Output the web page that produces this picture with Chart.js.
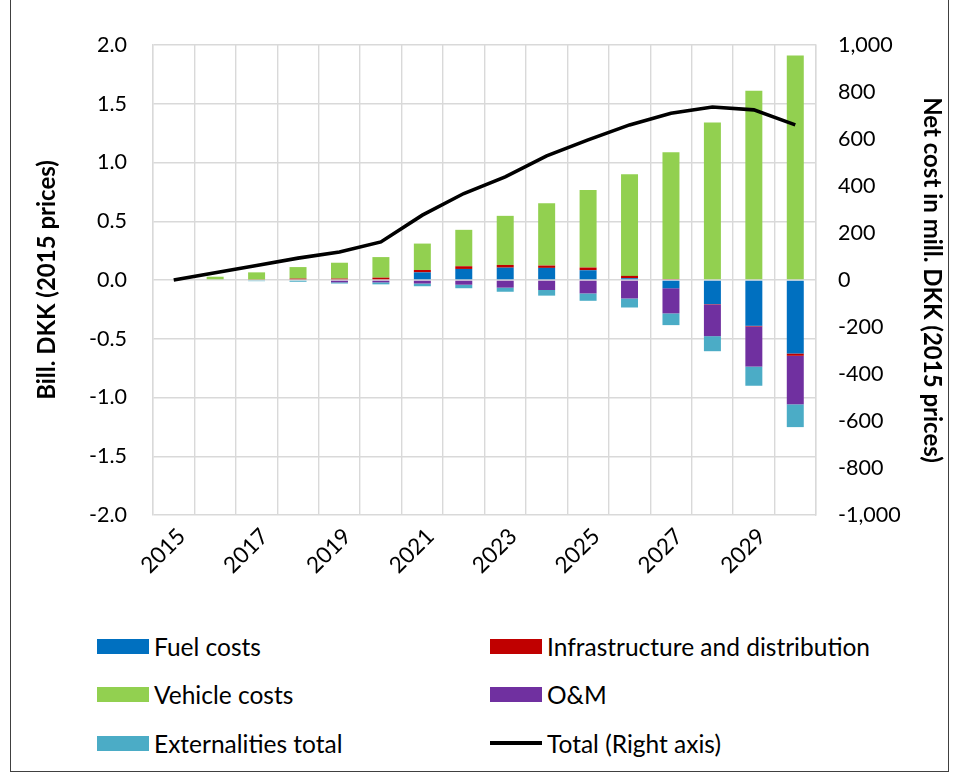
<!DOCTYPE html>
<html lang="en">
<head>
    <meta charset="UTF-8">
    <title>Bill. DKK (2015 prices)</title>
    <script src="https://cdn.jsdelivr.net/npm/chart.js"></script>
    <style>
        body {
            margin: 0;
            width: 953px;
            height: 774px;
            background: #fff;
            font-family: 'Lato', sans-serif;
            position: relative;
            overflow: hidden;
        }
        .frame {
            position: absolute;
            left: 10px;
            top: -2px;
            width: 939px;
            height: 774px;
            border: 1.5px solid #404040;
            box-sizing: border-box;
        }
        .chart-box {
            position: absolute;
            left: 0;
            top: 0;
            width: 953px;
            height: 580px;
        }
        .legend-item {
            position: absolute;
            display: flex;
            align-items: center;
            height: 24px;
            font-size: 24.5px;
            color: #000;
            white-space: nowrap;
        }
        .legend-swatch {
            width: 52px;
            margin-right: 5px;
        }
    </style>
</head>
<body>
    <div class="frame"></div>
    <div class="chart-box"><canvas id="chart"></canvas></div>
    <div id="legend"></div>

    <script>
        // --- data ---
        const years = ['2015', '2016', '2017', '2018', '2019', '2020', '2021', '2022',
                       '2023', '2024', '2025', '2026', '2027', '2028', '2029', '2030'];

        // bill. DKK, left axis
        const fuelCosts    = [0, 0, 0, 0, 0, 0, 0.065, 0.094, 0.105, 0.103, 0.083, 0.015, -0.07, -0.205, -0.39, -0.625];
        const infraCosts   = [0, 0, 0.005, 0.012, 0.012, 0.02, 0.02, 0.023, 0.023, 0.02, 0.023, 0.02, 0.008, -0.003, -0.005, -0.02];
        const vehicleCosts = [0, 0.028, 0.06, 0.098, 0.135, 0.175, 0.225, 0.31, 0.418, 0.531, 0.66, 0.865, 1.08, 1.34, 1.61, 1.91];
        const omCosts      = [0, 0, 0, 0, -0.02, -0.02, -0.03, -0.04, -0.065, -0.085, -0.114, -0.157, -0.214, -0.27, -0.342, -0.413];
        const externalities = [0, 0, -0.01, -0.015, -0.01, -0.017, -0.023, -0.03, -0.035, -0.048, -0.063, -0.077, -0.1, -0.128, -0.163, -0.194];

        // mill. DKK, right axis
        const totalNet = [0, 31, 62, 93, 119, 162, 276, 368, 439, 528, 596, 660, 710, 736, 724, 660];

        const leftTicks = [-2.0, -1.5, -1.0, -0.5, 0.0, 0.5, 1.0, 1.5, 2.0];
        const rightTicks = [-1000, -800, -600, -400, -200, 0, 200, 400, 600, 800, 1000];

        const FONT = 'Lato';
        const GRID = '#d9d9d9';

        function barSet(label, data, color) {
            return {
                type: 'bar',
                label: label,
                data: data,
                backgroundColor: color,
                borderWidth: 0,
                yAxisID: 'y',
                stack: 'costs',
                barPercentage: 0.41,
                categoryPercentage: 1.0,
                order: 1
            };
        }

        const chart = new Chart(document.getElementById('chart'), {
            data: {
                labels: years,
                datasets: [
                    barSet('Fuel costs', fuelCosts, '#0070C0'),
                    barSet('Infrastructure and distribution', infraCosts, '#C00000'),
                    barSet('Vehicle costs', vehicleCosts, '#92D050'),
                    barSet('O&M', omCosts, '#7030A0'),
                    barSet('Externalities total', externalities, '#4BACC6'),
                    {
                        type: 'line',
                        label: 'Total (Right axis)',
                        data: totalNet,
                        borderColor: '#000',
                        backgroundColor: '#000',
                        borderWidth: 3.6,
                        pointRadius: 0,
                        tension: 0,
                        yAxisID: 'y1',
                        order: 0
                    }
                ]
            },
            options: {
                responsive: true,
                maintainAspectRatio: false,
                animation: false,
                layout: { padding: { top: 45, left: 0, right: 0, bottom: 0 } },
                plugins: {
                    legend: { display: false },
                    tooltip: { enabled: false }
                },
                scales: {
                    x: {
                        stacked: true,
                        offset: true,
                        grid: { color: GRID, lineWidth: 1.4, offset: true, drawTicks: false },
                        border: { display: false },
                        ticks: {
                            autoSkip: false,
                            maxRotation: 45,
                            minRotation: 45,
                            padding: 8,
                            labelOffset: 8,
                            color: '#000',
                            font: { family: FONT, size: 22.5 },
                            callback: function (v, i) { return i % 2 === 0 ? years[i] : ''; }
                        },
                        afterFit: function (s) { s.height = 65; }
                    },
                    y: {
                        position: 'left',
                        stacked: true,
                        min: -2,
                        max: 2,
                        afterBuildTicks: function (s) { s.ticks = leftTicks.map(v => ({ value: v })); },
                        grid: { color: GRID, lineWidth: 1.4, drawTicks: false },
                        border: { display: true, color: GRID, width: 1.4 },
                        ticks: {
                            padding: 26,
                            color: '#000',
                            font: { family: FONT, size: 21.5 },
                            callback: function (v) { return v.toFixed(1); }
                        },
                        title: {
                            display: true,
                            text: 'Bill. DKK (2015 prices)',
                            color: '#000',
                            font: { family: FONT, size: 24, weight: 'bold' },
                            padding: { top: 33, bottom: 0 }
                        },
                        afterFit: function (s) { s.width = 153; }
                    },
                    y1: {
                        position: 'right',
                        min: -1000,
                        max: 1000,
                        afterBuildTicks: function (s) { s.ticks = rightTicks.map(v => ({ value: v })); },
                        grid: { display: false, drawTicks: false },
                        border: { display: true, color: GRID, width: 1.4 },
                        ticks: {
                            padding: 22,
                            color: '#000',
                            font: { family: FONT, size: 21.5 },
                            callback: function (v) { return v.toLocaleString('en-US'); }
                        },
                        title: {
                            display: true,
                            text: 'Net cost in mill. DKK (2015 prices)',
                            color: '#000',
                            font: { family: FONT, size: 24, weight: 'bold' },
                            padding: { top: 7, bottom: 0 }
                        },
                        afterFit: function (s) { s.width = 137; }
                    }
                }
            }
        });

        // --- legend: two columns, three rows, like the original ---
        const legendBox = document.getElementById('legend');
        const colX = [97, 490];
        const rowY = [646, 694, 743];
        chart.data.datasets.forEach(function (ds, i) {
            const item = document.createElement('div');
            item.className = 'legend-item';
            item.style.left = colX[i % 2] + 'px';
            item.style.top = (rowY[Math.floor(i / 2)] - 12) + 'px';
            const sw = document.createElement('span');
            sw.className = 'legend-swatch';
            if (ds.type === 'line') {
                sw.style.height = '4px';
                sw.style.background = ds.borderColor;
            } else {
                sw.style.height = '15px';
                sw.style.background = ds.backgroundColor;
            }
            const txt = document.createElement('span');
            txt.textContent = ds.label;
            item.appendChild(sw);
            item.appendChild(txt);
            legendBox.appendChild(item);
        });
    </script>
</body>
</html>
